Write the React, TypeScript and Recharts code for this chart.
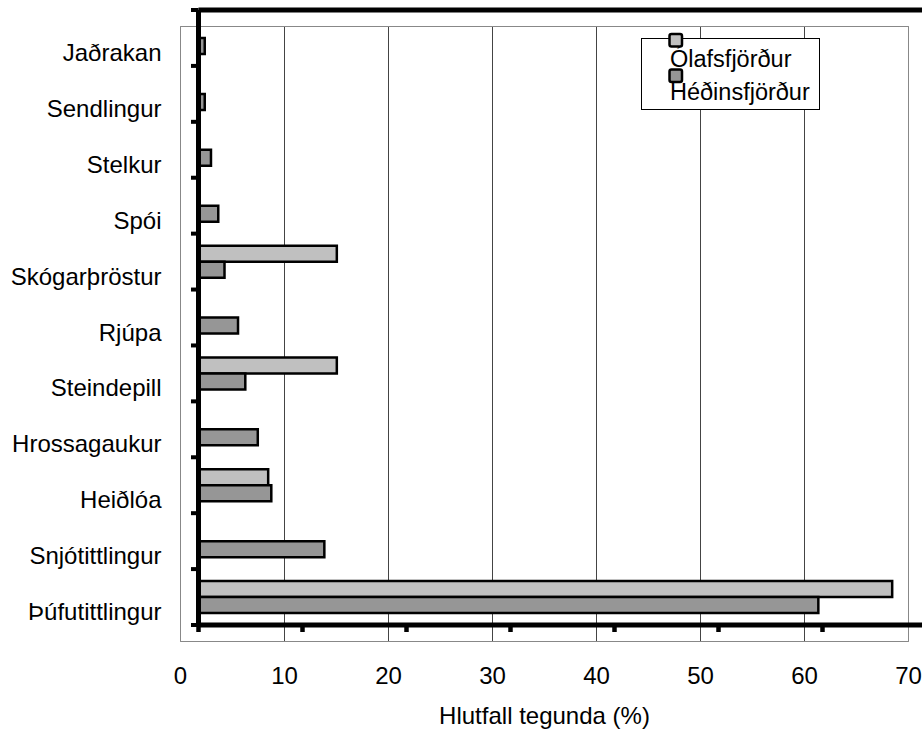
import React from 'react';
import {
  BarChart,
  Bar,
  XAxis,
  YAxis,
  CartesianGrid,
  ReferenceArea,
  ReferenceLine,
  Legend,
} from 'recharts';

// species, top to bottom
const categories = [
  'Jaðrakan',
  'Sendlingur',
  'Stelkur',
  'Spói',
  'Skógarþröstur',
  'Rjúpa',
  'Steindepill',
  'Hrossagaukur',
  'Heiðlóa',
  'Snjótittlingur',
  'Þúfutittlingur',
];
const olafsfjordur = [0, 0, 0, 0, 13.3, 0, 13.3, 0, 6.7, 0, 66.7];
const hedinsfjordur = [0.6, 0.6, 1.2, 1.9, 2.5, 3.8, 4.5, 5.7, 7.0, 12.1, 59.6];
const xTicks = [0, 10, 20, 30, 40, 50, 60, 70];
// row boundaries for the heavy left axis ticks
const rowTicks = [0, 1, 2, 3, 4, 5, 6, 7, 8, 9, 10, 11];
const seriesOrder = ['olafs', 'hedins'];

const data = categories.map((name, i) => ({
  name,
  olafs: olafsfjordur[i],
  hedins: hedinsfjordur[i],
}));

const font = '"Liberation Sans", Arial, sans-serif';

const NoTick = () => <g />;

const LegendBox = (props: any) => {
  const items = [...(props.payload || [])].sort(
    (a: any, b: any) => seriesOrder.indexOf(a.dataKey) - seriesOrder.indexOf(b.dataKey)
  );
  return (
    <svg width={922} height={729} style={{ position: 'absolute', left: 0, top: 0 }}>
      <rect x={641.5} y={38.5} width={178} height={71} fill="#fff" stroke="#000" strokeWidth={1} />
      {items.map((entry: any, i: number) => (
        <g key={entry.value}>
          <text x={670} y={66.5 + i * 33.5} fontSize={23.5} fontFamily={font} fill="#000">
            {entry.value}
          </text>
          <rect
            x={669.5}
            y={34 + i * 35.5}
            width={12.5}
            height={12.5}
            rx={2}
            fill={entry.color}
            stroke="#000"
            strokeWidth={2.5}
          />
        </g>
      ))}
    </svg>
  );
};

export default function App() {
  return (
    <div
      style={{
        position: 'absolute',
        left: 0,
        top: 0,
        width: 922,
        height: 729,
        overflow: 'hidden',
        background: '#fff',
        fontFamily: font,
      }}
    >
      {/* back wall: thin frame, gridlines and labels */}
      <div style={{ position: 'absolute', left: 0, top: 0 }}>
        <BarChart
          width={922}
          height={729}
          data={data}
          layout="vertical"
          margin={{ top: 26.5, right: 13.5, left: 0.5, bottom: 2.5 }}
        >
          <CartesianGrid horizontal={false} stroke="#444" />
          <XAxis
            type="number"
            domain={[0, 70]}
            ticks={xTicks}
            axisLine={false}
            tickLine={false}
            tickSize={10}
            tickMargin={15}
            height={85}
            tick={{ fill: '#000', fontSize: 24, fontFamily: font }}
            label={{
              value: 'Hlutfall tegunda (%)',
              position: 'insideBottom',
              offset: 2.5,
              fill: '#000',
              fontSize: 24,
              fontFamily: font,
            }}
          />
          <YAxis
            type="category"
            dataKey="name"
            width={180}
            interval={0}
            axisLine={false}
            tickLine={false}
            tickSize={8}
            tickMargin={11}
            tick={{ fill: '#000', fontSize: 24, fontFamily: font, dy: -2 }}
          />
          <ReferenceArea x1={0} x2={70} fill="none" stroke="#888" strokeWidth={1} ifOverflow="visible" />
          <Bar dataKey="olafs" fill="none" stroke="none" isAnimationActive={false} />
        </BarChart>
      </div>

      {/* front: bars and the heavy bottom axis */}
      <div style={{ position: 'absolute', left: 0, top: 0 }}>
        <BarChart
          width={940}
          height={729}
          data={data}
          layout="vertical"
          barSize={16}
          barGap={0}
          margin={{ top: 10, right: 13.5, left: 198.5, bottom: 84 }}
        >
          <XAxis
            type="number"
            domain={[0, 70]}
            ticks={xTicks}
            height={20}
            axisLine={{ stroke: '#000', strokeWidth: 5 }}
            tickLine={{ stroke: '#000', strokeWidth: 4.5 }}
            tickSize={7}
            tick={NoTick}
          />
          <YAxis type="category" dataKey="name" width={0} hide />
          <Bar
            dataKey="olafs"
            name="Ólafsfjörður"
            fill="#C0C0C0"
            stroke="#000"
            strokeWidth={2.5}
            isAnimationActive={false}
          />
          <Bar
            dataKey="hedins"
            name="Héðinsfjörður"
            fill="#969696"
            stroke="#000"
            strokeWidth={2.5}
            isAnimationActive={false}
          />
          <Legend
            layout="vertical"
            align="center"
            verticalAlign="middle"
            content={LegendBox}
            wrapperStyle={{ left: 0, top: 0, width: 922, height: 729, pointerEvents: 'none' }}
          />
        </BarChart>
      </div>

      {/* heavy left axis with row-boundary ticks, and the heavy top edge */}
      <div style={{ position: 'absolute', left: 0, top: 0 }}>
        <BarChart
          width={940}
          height={729}
          data={data}
          margin={{ top: 10, right: 13.5, left: 178.5, bottom: 104 }}
        >
          <XAxis dataKey="name" hide />
          <YAxis
            type="number"
            domain={[0, 11]}
            allowDataOverflow
            ticks={rowTicks}
            width={20}
            axisLine={{ stroke: '#000', strokeWidth: 5 }}
            tickLine={{ stroke: '#000', strokeWidth: 4 }}
            tickSize={7.5}
            tick={NoTick}
          />
          <ReferenceLine y={11} stroke="#000" strokeWidth={5} />
        </BarChart>
      </div>
    </div>
  );
}
